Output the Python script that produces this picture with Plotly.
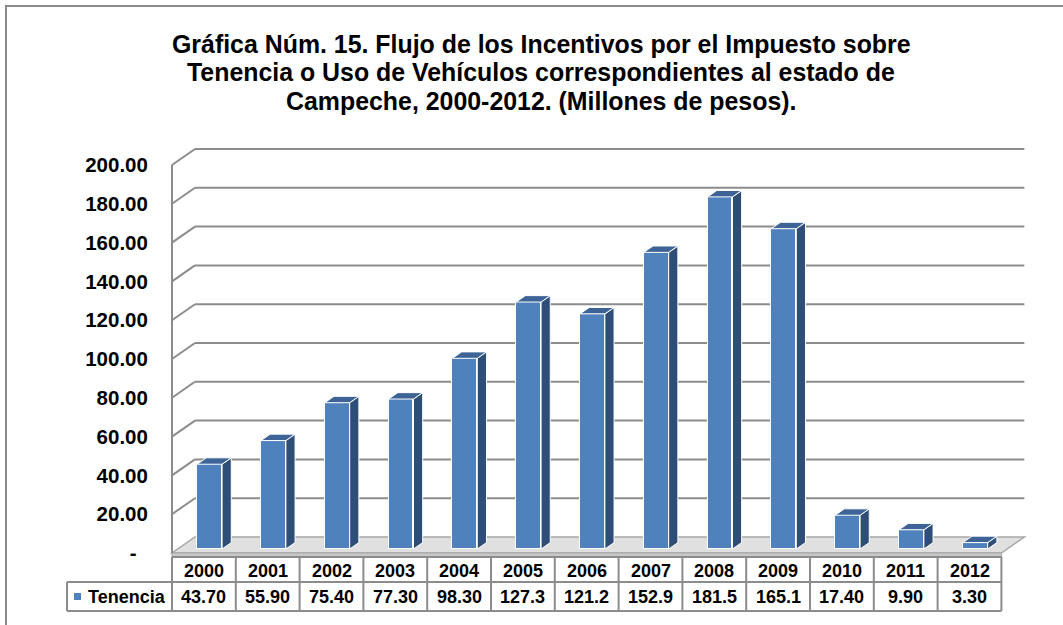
import plotly.graph_objects as go

# ---------------- data ----------------
years = ["2000", "2001", "2002", "2003", "2004", "2005", "2006",
         "2007", "2008", "2009", "2010", "2011", "2012"]
tenencia = [43.70, 55.90, 75.40, 77.30, 98.30, 127.3, 121.2,
            152.9, 181.5, 165.1, 17.40, 9.90, 3.30]
value_labels = ["43.70", "55.90", "75.40", "77.30", "98.30", "127.3", "121.2",
                "152.9", "181.5", "165.1", "17.40", "9.90", "3.30"]
series_name = "Tenencia"
y_tick_vals = [0, 20, 40, 60, 80, 100, 120, 140, 160, 180, 200]
y_tick_labels = ["-\u00a0\u00a0", "20.00", "40.00", "60.00", "80.00", "100.00",
                 "120.00", "140.00", "160.00", "180.00", "200.00"]
title_lines = ["Gráfica Núm. 15. Flujo de los Incentivos por el Impuesto sobre",
               "Tenencia o Uso de Vehículos correspondientes al estado de",
               "Campeche, 2000-2012. (Millones de pesos)."]

# ---------------- geometry / style ----------------
WIDTH, HEIGHT = 1063, 625
X0PX, SX = 172.0, 63.8      # pixel of x=0, pixels per category
Y0PX, SY = 553.0, 1.94      # pixel of y=0, pixels per value unit
L, R, T, B = 165.0, 1030.0, 140.0, 559.0
xr = [(L - X0PX) / SX, (R - X0PX) / SX]
yr = [-(B - Y0PX) / SY, (Y0PX - T) / SY]

DX, DY = 0.36, 8.25          # depth offset of back wall (data units)
D0, DD = 0.25, 0.40          # bar front depth & bar depth (fractions)
BW = 0.39                    # bar front width

FRONT = "#4F81BD"
SIDE = "#2E4E78"
TOP = "#3D6397"
GRID = "#8C8C8C"
FONT = "Liberation Sans, Arial, sans-serif"
n = len(years)


def px_x(p):
    return (p - L) / (R - L)


def px_y(p):
    return (B - p) / (B - T)


def col_px(i):
    return X0PX + i * SX


fig = go.Figure()

# front faces
xc = [i + 0.5 + D0 * DX for i in range(n)]
base = D0 * DY
fig.add_trace(go.Bar(
    x=xc, y=tenencia, base=[base] * n, width=BW,
    marker=dict(color=FRONT, line=dict(color="white", width=1)),
    name=series_name, showlegend=False, hoverinfo="skip"))

# side and top faces
sx, sy, tx, ty = [], [], [], []
for c, v in zip(xc, tenencia):
    xl, xrr = c - BW / 2, c + BW / 2
    ox, oy = DD * DX, DD * DY
    sx += [xrr, xrr + ox, xrr + ox, xrr, xrr, None]
    sy += [base, base + oy, base + v + oy, base + v, base, None]
    tx += [xl, xrr, xrr + ox, xl + ox, xl, None]
    ty += [base + v, base + v, base + v + oy, base + v + oy, base + v, None]
fig.add_trace(go.Scatter(x=sx, y=sy, mode="lines", fill="toself", fillcolor=SIDE,
                         line=dict(color="white", width=1), showlegend=False,
                         hoverinfo="skip"))
fig.add_trace(go.Scatter(x=tx, y=ty, mode="lines", fill="toself", fillcolor=TOP,
                         line=dict(color="white", width=1), showlegend=False,
                         hoverinfo="skip"))

shapes = []
# floor
shapes.append(dict(type="path", xref="x", yref="y", layer="below",
                   path=f"M 0 0 L {n} 0 L {n + DX} {DY} L {DX} {DY} Z",
                   fillcolor="#E0E0E0", line=dict(color="#A6A6A6", width=1.5)))
shapes.append(dict(type="path", xref="x", yref="y", layer="below",
                   path=f"M 0 0 L {n} 0 L {n} -2 L 0 -2 Z",
                   fillcolor="#C8C8C8", line=dict(color="#A6A6A6", width=1)))
# grid on back wall and left wall
for v in y_tick_vals[1:]:
    shapes.append(dict(type="line", xref="x", yref="y", layer="below",
                       x0=DX, y0=v + DY, x1=n + DX, y1=v + DY,
                       line=dict(color=GRID, width=2)))
    shapes.append(dict(type="line", xref="x", yref="y", layer="below",
                       x0=0, y0=v, x1=DX, y1=v + DY,
                       line=dict(color=GRID, width=2)))
# front-left axis line
shapes.append(dict(type="line", xref="x", yref="y", layer="below",
                   x0=0, y0=0, x1=0, y1=y_tick_vals[-1],
                   line=dict(color=GRID, width=2)))

# ---------------- data table ----------------
ROW_TOP, ROW_MID, ROW_BOT = 557.0, 582.0, 611.0
LEG_LEFT = 67.0
TBL = "#8C8C8C"
right_px = col_px(n)
for y0p, xa in [(ROW_TOP, X0PX), (ROW_MID, LEG_LEFT), (ROW_BOT, LEG_LEFT)]:
    shapes.append(dict(type="line", xref="paper", yref="paper",
                       x0=px_x(xa), x1=px_x(right_px), y0=px_y(y0p), y1=px_y(y0p),
                       line=dict(color=TBL, width=2)))
for i in range(n + 1):
    shapes.append(dict(type="line", xref="paper", yref="paper",
                       x0=px_x(col_px(i)), x1=px_x(col_px(i)),
                       y0=px_y(ROW_TOP), y1=px_y(ROW_BOT),
                       line=dict(color=TBL, width=2)))
shapes.append(dict(type="line", xref="paper", yref="paper",
                   x0=px_x(LEG_LEFT), x1=px_x(LEG_LEFT),
                   y0=px_y(ROW_MID), y1=px_y(ROW_BOT),
                   line=dict(color=TBL, width=2)))
# legend key
shapes.append(dict(type="rect", xref="paper", yref="paper",
                   x0=px_x(74), x1=px_x(81), y0=px_y(600), y1=px_y(593),
                   fillcolor=FRONT, line=dict(width=0)))

# outer chart border
shapes.append(dict(type="line", xref="paper", yref="paper",
                   x0=px_x(6), x1=px_x(6), y0=px_y(5), y1=px_y(HEIGHT + 5),
                   line=dict(color="#8A8A8A", width=2)))
shapes.append(dict(type="line", xref="paper", yref="paper",
                   x0=px_x(5), x1=px_x(WIDTH + 5), y0=px_y(6), y1=px_y(6),
                   line=dict(color="#8A8A8A", width=2)))

annotations = []
tfont = dict(family=FONT, size=18, color="black")
for i in range(n):
    cx = px_x(col_px(i + 0.5))
    annotations.append(dict(xref="paper", yref="paper", x=cx,
                            y=px_y((ROW_TOP + ROW_MID) / 2 + 1),
                            text=f"<b>{years[i]}</b>", showarrow=False,
                            font=tfont, xanchor="center", yanchor="middle"))
    annotations.append(dict(xref="paper", yref="paper", x=cx,
                            y=px_y((ROW_MID + ROW_BOT) / 2),
                            text=f"<b>{value_labels[i]}</b>", showarrow=False,
                            font=tfont, xanchor="center", yanchor="middle"))
annotations.append(dict(xref="paper", yref="paper", x=px_x(86),
                        y=px_y((ROW_MID + ROW_BOT) / 2),
                        text=f"<b>{series_name}</b>", showarrow=False,
                        font=tfont, xanchor="left", yanchor="middle"))

# title, one annotation per line
for k, (line, ypx) in enumerate(zip(title_lines, [44, 72.5, 101])):
    annotations.append(dict(xref="paper", yref="paper", x=px_x(541),
                            y=px_y(ypx), text=f"<b>{line}</b>", showarrow=False,
                            font=dict(family=FONT, size=24.9, color="black"),
                            xanchor="center", yanchor="middle"))

fig.update_layout(
    width=WIDTH, height=HEIGHT,
    margin=dict(l=L, r=WIDTH - R, t=T, b=HEIGHT - B, pad=0),
    paper_bgcolor="white", plot_bgcolor="rgba(0,0,0,0)",
    bargap=0, showlegend=False,
    xaxis=dict(range=xr, visible=False, fixedrange=True),
    yaxis=dict(range=yr, tickvals=y_tick_vals,
               ticktext=[f"<b>{t}</b>" for t in y_tick_labels],
               tickfont=dict(family=FONT, size=20.5, color="black"),
               ticks="outside", ticklen=12, tickcolor="rgba(0,0,0,0)",
               showgrid=False, zeroline=False, showline=False, fixedrange=True),
    shapes=shapes, annotations=annotations,
)

fig.write_html("out.html", config={"displayModeBar": False},
               post_script="document.body.style.margin='0';")
